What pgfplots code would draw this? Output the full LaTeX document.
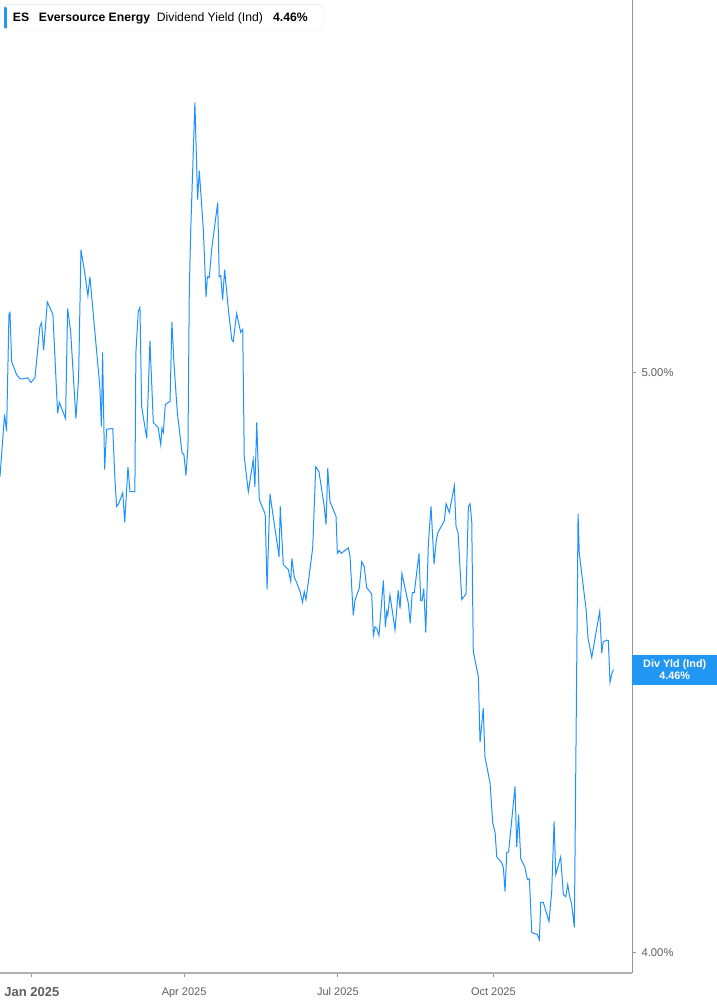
\documentclass[border=0pt]{standalone}
\usepackage{fontspec}
\setmainfont{Liberation Sans}
\usepackage{pgfplots}
\pgfplotsset{compat=1.18}

\definecolor{lineblue}{RGB}{30,144,255}
\definecolor{boxblue}{RGB}{33,150,243}
\definecolor{axisgray}{RGB}{175,175,175}
\definecolor{labgray}{RGB}{95,95,95}

\begin{document}
\begin{tikzpicture}[x=1pt,y=1pt]
\useasboundingbox (0,-32) rectangle (717,973);
\begin{axis}[
    at={(0,0)}, anchor=south west,
    scale only axis,
    width=632pt, height=973pt,
    ymode=log,
    xmin=-18.9, xmax=355,
    ymin=3.969, ymax=5.771,
    axis x line*=bottom,
    axis y line*=right,
    x axis line style={-, draw=axisgray, line width=1.6pt},
    y axis line style={-, draw=axisgray!85!black, line width=0.9pt},
    xtick={0,90,181,273},
    xticklabels={{\bfseries\fontsize{13}{13}\selectfont Jan 2025}, Apr 2025, Jul 2025, Oct 2025},
    ytick={4,5},
    yticklabels={4.00\%, 5.00\%},
    minor ytick={},
    tick align=outside,
    major tick length=4pt,
    tick style={draw=axisgray!85!black, line width=0.9pt},
    xticklabel style={font=\fontsize{11}{11}\selectfont, text=labgray, anchor=north, yshift=-7pt},
    yticklabel style={font=\fontsize{11.3}{11.3}\selectfont, text=labgray, anchor=west, xshift=2pt, yshift=-0.5pt},
    clip mode=individual,
]
\addplot[lineblue, line width=1pt] table {
x y
-18.9 4.804
-16.2 4.920
-15.0 4.888
-13.6 5.113
-13.0 5.117
-12.0 5.021
-9.1 4.996
-7.1 4.988
-5.3 4.988
-2.4 4.990
-0.6 4.981
1.8 4.990
4.7 5.089
5.7 5.097
6.9 5.043
9.1 5.138
12.4 5.113
15.2 4.922
16.2 4.943
19.9 4.912
21.1 5.125
22.9 5.080
26.0 4.912
27.6 4.990
29.0 5.242
31.4 5.192
33.1 5.150
34.3 5.188
40.2 4.971
41.1 4.897
41.8 5.039
43.0 4.817
44.2 4.892
47.8 4.894
49.1 4.798
50.1 4.749
51.2 4.753
53.7 4.774
54.9 4.720
56.8 4.822
58.0 4.776
60.9 4.776
61.5 5.039
62.9 5.119
63.9 5.127
64.9 4.935
67.9 4.875
69.8 5.062
71.8 4.905
74.7 4.895
76.2 4.863
76.9 4.894
77.7 4.886
78.9 4.939
81.7 4.945
82.8 5.099
84.0 5.019
86.0 4.924
88.8 4.848
89.9 4.845
91.1 4.806
92.3 4.860
93.1 5.162
93.9 5.277
96.4 5.548
98.0 5.344
99.0 5.404
101.4 5.283
103.0 5.148
103.8 5.188
104.9 5.186
106.3 5.242
109.9 5.338
110.8 5.188
111.7 5.190
112.8 5.142
114.0 5.202
116.2 5.123
118.2 5.064
119.1 5.060
121.1 5.115
123.5 5.078
124.7 5.084
125.6 4.841
128.0 4.776
130.0 4.817
130.9 4.835
131.9 4.785
133.0 4.905
134.5 4.762
137.3 4.740
138.0 4.735
139.1 4.600
140.8 4.772
146.2 4.658
146.9 4.749
148.7 4.644
151.7 4.635
153.1 4.614
153.8 4.655
155.2 4.621
156.6 4.612
158.6 4.596
160.1 4.577
161.1 4.596
162.1 4.582
163.5 4.612
166.1 4.674
167.9 4.822
169.8 4.813
172.8 4.752
174.0 4.716
175.0 4.819
176.3 4.758
179.9 4.731
180.7 4.664
181.8 4.669
183.0 4.664
187.2 4.674
188.2 4.658
190.1 4.554
191.1 4.580
193.7 4.603
195.1 4.649
196.6 4.640
198.0 4.603
201.0 4.592
202.0 4.519
203.0 4.534
204.0 4.531
205.3 4.519
207.9 4.616
209.1 4.534
209.9 4.561
210.5 4.554
211.8 4.590
214.8 4.529
216.7 4.598
217.8 4.566
218.9 4.628
222.7 4.575
223.8 4.540
225.0 4.594
226.2 4.594
229.0 4.664
230.0 4.580
230.8 4.580
231.8 4.601
233.0 4.524
234.5 4.680
236.1 4.749
237.9 4.645
239.1 4.685
240.1 4.701
244.0 4.723
245.0 4.754
246.9 4.738
249.9 4.787
250.9 4.712
252.1 4.701
254.3 4.582
256.8 4.592
258.2 4.749
259.2 4.754
260.2 4.720
261.1 4.491
264.1 4.448
265.1 4.337
267.0 4.394
268.0 4.313
271.0 4.270
272.6 4.205
274.0 4.189
275.0 4.150
277.9 4.141
278.9 4.133
279.9 4.095
280.9 4.157
282.0 4.158
285.8 4.264
286.8 4.166
287.9 4.218
289.2 4.147
291.7 4.133
293.1 4.114
294.3 4.115
295.7 4.031
297.6 4.029
299.0 4.028
300.2 4.020
301.0 4.078
302.5 4.078
305.9 4.048
307.5 4.095
308.9 4.207
309.9 4.122
312.8 4.150
314.4 4.090
315.8 4.087
317.0 4.106
317.9 4.090
319.3 4.075
320.9 4.039
323.1 4.736
323.8 4.665
325.8 4.614
327.8 4.566
329.0 4.514
331.2 4.481
333.7 4.524
335.9 4.561
337.1 4.489
338.0 4.508
340.1 4.511
341.0 4.510
342.0 4.438
343.0 4.452
344.0 4.460
};
% last-value tag on the right axis
\node[fill=boxblue, text=white, font=\bfseries\fontsize{10.8}{11.5}\selectfont,
      align=center, anchor=west, minimum width=85pt, minimum height=30pt, inner sep=0pt]
  at ({rel axis cs:1,0} |- {axis cs:344,4.46}) {Div Yld (Ind)\\4.46\%};
\end{axis}

% legend header
\draw[draw=black!12, fill=white, rounded corners=3pt] (4,968.3) rectangle (323,943);
\fill[boxblue, rounded corners=1pt] (4,966) rectangle (6.8,944.5);
\begin{scope}[every node/.style={anchor=base west, inner sep=0pt, font=\fontsize{12.2}{12.2}\selectfont}]
  \node at (12.7,951.3) {\bfseries ES};
  \node at (38.7,951.3) {\bfseries Eversource Energy};
  \node at (156.7,951.3) {Dividend Yield (Ind)};
  \node at (273,951.3) {\bfseries 4.46\%};
\end{scope}
\end{tikzpicture}
\end{document}
